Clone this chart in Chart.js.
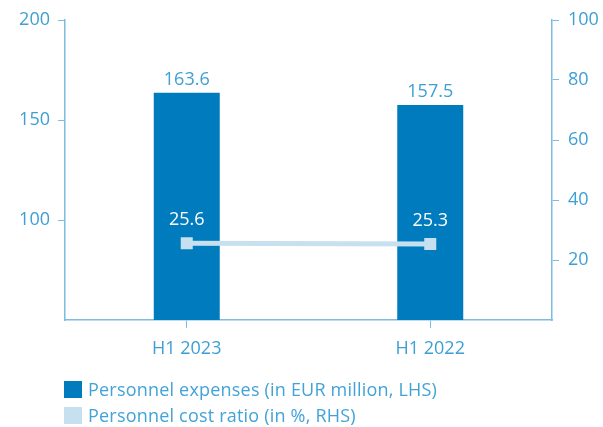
<!DOCTYPE html>
<html>
<head>
<meta charset="utf-8">
<script src="https://cdn.jsdelivr.net/npm/chart.js@4/dist/chart.umd.min.js"></script>
<style>
  html, body { margin: 0; padding: 0; background: #fff; }
  #wrap { position: relative; width: 603px; height: 427px; overflow: hidden; }
  #chart { position: absolute; left: 0; top: 0; }
  .legend { position: absolute; left: 64px; top: 376px; font-family: "Open Sans", sans-serif; font-size: 18px; letter-spacing: 0.2px; color: #42a3d9; }
  .legend div { display: flex; align-items: center; height: 26px; }
  .legend span.sw { display: inline-block; width: 18px; height: 17px; margin-right: 6px; }
</style>
</head>
<body>
<div id="wrap">
  <canvas id="chart" width="603" height="427"></canvas>
  <div class="legend" id="legend"></div>
</div>
<script>
// Values.
const periods = ["H1 2023", "H1 2022"];
const personnelExpenses = [163.6, 157.5]; // EUR million, left axis
const personnelCostRatio = [25.6, 25.3];  // %, right axis
const leftTicks = [100, 150, 200];
const rightTicks = [20, 40, 60, 80, 100];

const BAR_COLOR = "#007bbd";
const LINE_COLOR = "#c6e0f0";
const TEXT_COLOR = "#3d9fd5";
const AXIS_COLOR = "#7dbbe0";
const FONT = "'Open Sans', sans-serif";

const seriesNames = ["Personnel expenses (in EUR million, LHS)", "Personnel cost ratio (in %, RHS)"];

// Simple value labels (no datalabels plugin available offline).
const valueLabels = {
  id: "valueLabels",
  afterDatasetsDraw(chart) {
    const ctx = chart.ctx;
    ctx.save();
    ctx.font = "18px " + FONT;
    ctx.textAlign = "center";
    ctx.textBaseline = "alphabetic";
    chart.getDatasetMeta(1).data.forEach((el, i) => {
      ctx.fillStyle = TEXT_COLOR;
      ctx.fillText(personnelExpenses[i].toFixed(1), el.x, el.y - 8);
    });
    chart.getDatasetMeta(0).data.forEach((el, i) => {
      ctx.fillStyle = "#ffffff";
      ctx.fillText(personnelCostRatio[i].toFixed(1), el.x, el.y - 18);
    });
    ctx.restore();
  },
};

function keepTicks(list) {
  return (scale) => { scale.ticks = list.map((v) => ({ value: v })); };
}

new Chart(document.getElementById("chart"), {
  data: {
    labels: periods,
    datasets: [
      {
        type: "line",
        label: seriesNames[1],
        data: personnelCostRatio,
        yAxisID: "y1",
        borderColor: LINE_COLOR,
        backgroundColor: LINE_COLOR,
        borderWidth: 5,
        pointStyle: "rect",
        pointRadius: 8.5,
        pointBorderWidth: 0,
        order: 0,
      },
      {
        type: "bar",
        label: seriesNames[0],
        data: personnelExpenses,
        yAxisID: "y",
        backgroundColor: BAR_COLOR,
        categoryPercentage: 1,
        barPercentage: 0.271,
        order: 1,
      },
    ],
  },
  options: {
    responsive: false,
    animation: false,
    layout: { padding: { top: 20, left: 0, right: 0, bottom: 0 } },
    plugins: { legend: { display: false }, tooltip: { enabled: false } },
    scales: {
      x: {
        grid: { display: true, drawOnChartArea: false, offset: false, color: AXIS_COLOR, tickLength: 8 },
        border: { color: AXIS_COLOR, width: 1.5 },
        ticks: { color: TEXT_COLOR, font: { family: FONT, size: 18 }, padding: 10 },
        afterFit: (s) => { s.height = 107; },
      },
      y: {
        position: "left",
        min: 50,
        max: 200,
        afterBuildTicks: keepTicks(leftTicks),
        grid: { drawOnChartArea: false, color: AXIS_COLOR, tickLength: 7 },
        border: { color: AXIS_COLOR, width: 1.5 },
        ticks: { color: TEXT_COLOR, font: { family: FONT, size: 18 }, padding: 8 },
        afterFit: (s) => { s.width = 65; },
      },
      y1: {
        position: "right",
        min: 0,
        max: 100,
        afterBuildTicks: keepTicks(rightTicks),
        grid: { drawOnChartArea: false, color: AXIS_COLOR, tickLength: 7 },
        border: { color: AXIS_COLOR, width: 1.5 },
        ticks: { color: TEXT_COLOR, font: { family: FONT, size: 18 }, padding: 9 },
        afterFit: (s) => { s.width = 51; },
      },
    },
  },
  plugins: [valueLabels],
});

document.getElementById("legend").innerHTML = seriesNames
  .map((n, i) => `<div><span class="sw" style="background:${i === 0 ? BAR_COLOR : LINE_COLOR}"></span>${n}</div>`)
  .join("");
</script>
</body>
</html>
